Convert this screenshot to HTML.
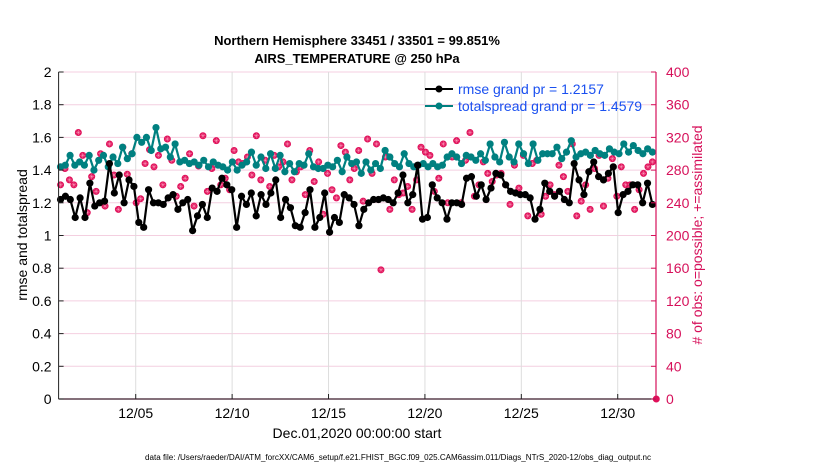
<!DOCTYPE html>
<html><head><meta charset="utf-8"><style>
body{margin:0;background:#fff;}
svg{display:block;font-family:"Liberation Sans",sans-serif;}
</style></head><body>
<svg id="chart" width="830" height="470" xmlns="http://www.w3.org/2000/svg">
<g id="grid"></g>
<g id="series"></g>
<g id="axes"></g>
<text x="357" y="45" font-size="13" font-weight="bold" text-anchor="middle">Northern Hemisphere 33451 / 33501 = 99.851%</text>
<text x="357" y="63" font-size="13" font-weight="bold" text-anchor="middle">AIRS_TEMPERATURE @ 250 hPa</text>
<text transform="translate(27,235) rotate(-90)" font-size="14" text-anchor="middle">rmse and totalspread</text>
<text transform="translate(702,235) rotate(-90)" font-size="14" fill="#d6105a" text-anchor="middle"># of obs: o=possible; +=assimilated</text>
<text x="357" y="438" font-size="14" text-anchor="middle">Dec.01,2020 00:00:00 start</text>
<text x="398" y="460" font-size="8" text-anchor="middle" textLength="506" lengthAdjust="spacingAndGlyphs">data file: /Users/raeder/DAI/ATM_forcXX/CAM6_setup/f.e21.FHIST_BGC.f09_025.CAM6assim.011/Diags_NTrS_2020-12/obs_diag_output.nc</text>
<g>
<line x1="425" y1="89" x2="453" y2="89" stroke="#000" stroke-width="2"/><circle cx="439" cy="89" r="3.5" fill="#000"/>
<text x="458" y="94" font-size="14" fill="#1a50f0">rmse grand pr = 1.2157</text>
<line x1="425" y1="106" x2="453" y2="106" stroke="#008080" stroke-width="2"/><circle cx="439" cy="106" r="3.5" fill="#008080"/>
<text x="458" y="111" font-size="14" fill="#1a50f0">totalspread grand pr = 1.4579</text>
</g>
</svg>
<script>
const rmse=[1.22,1.24,1.22,1.11,1.23,1.11,1.32,1.18,1.2,1.21,1.44,1.26,1.37,1.2,1.34,1.30,1.08,1.05,1.28,1.2,1.2,1.19,1.23,1.25,1.16,1.2,1.22,1.03,1.12,1.19,1.11,1.29,1.27,1.35,1.31,1.28,1.05,1.24,1.19,1.26,1.12,1.25,1.19,1.26,1.34,
1.11,1.22,1.17,1.06,1.05,1.14,1.28,1.05,1.11,1.26,1.02,1.11,1.08,1.25,1.23,1.19,1.06,1.16,1.2,1.22,1.22,1.23,1.22,1.2,1.26,1.37,1.2,1.25,1.43,1.1,1.11,1.31,1.23,1.2,1.1,1.2,1.2,1.19,1.35,
1.36,1.24,1.31,1.22,1.29,1.38,1.37,1.31,1.27,1.26,1.25,1.25,1.23,1.1,1.16,1.32,1.27,1.24,1.27,1.22,1.2,1.44,1.34,1.25,1.39,1.45,1.36,1.34,1.38,1.42,1.14,1.25,1.27,1.31,1.31,1.2,1.32,1.19];
const spread=[1.42,1.43,1.49,1.43,1.45,1.43,1.49,1.40,1.46,1.49,1.42,1.48,1.44,1.54,1.47,1.5,1.6,1.57,1.6,1.52,1.66,1.53,1.54,1.48,1.56,1.45,1.46,1.44,1.45,1.43,1.46,1.42,1.45,1.43,1.42,1.40,1.45,1.40,1.43,1.45,1.51,1.43,1.48,1.41,
1.5,1.41,1.49,1.39,1.44,1.39,1.44,1.43,1.5,1.42,1.41,1.41,1.43,1.42,1.46,1.39,1.48,1.44,1.45,1.38,1.45,1.40,1.44,1.41,1.52,1.48,1.44,1.42,1.5,1.44,1.42,1.43,1.44,1.42,1.44,1.42,1.43,1.48,1.5,1.48,1.44,1.49,1.48,
1.46,1.5,1.46,1.56,1.48,1.45,1.57,1.48,1.45,1.56,1.5,1.44,1.56,1.46,1.5,1.5,1.5,1.54,1.47,1.51,1.58,1.48,1.5,1.51,1.49,1.52,1.5,1.49,1.53,1.51,1.5,1.56,1.51,1.55,1.52,1.5,1.53,1.51];
const obs=[262,282,268,262,326,298,228,272,254,300,236,312,274,232,308,275,300,240,245,288,305,284,298,262,318,292,248,260,270,300,236,285,322,254,282,316,262,270,256,304,290,288,296,274,322,268,292,
260,298,284,290,312,268,278,284,250,304,266,290,226,276,256,246,310,302,268,282,304,242,318,276,312,158,296,232,268,250,252,260,232,268,308,302,298,254,270,312,240,296,316,240,292,326,248,262,
290,276,266,274,276,262,238,286,258,298,224,288,292,226,248,262,250,286,272,254,312,224,242,262,232,282,298,236,270,294,248,284,262,262,232,256,276,284,290];
const zeroObs=[0];
const xTicks=[4,9,14,19,24,29];
const xTickLabels=["12/05","12/10","12/15","12/20","12/25","12/30"];
const yTicksL=[0,0.2,0.4,0.6,0.8,1,1.2,1.4,1.6,1.8,2];
const yTicksR=[0,40,80,120,160,200,240,280,320,360,400];
const NS='http://www.w3.org/2000/svg';
const X0=58.6,X1=656,PX=19.28,Y0=399,Y1=72;
const T0=0.1,T1=30.8;
const xs=d=>X0+d*PX;
const yl=v=>Y0-(v/2)*(Y0-Y1);
const yr=v=>Y0-(v/400)*(Y0-Y1);
const tAt=(i,n)=>T0+i*(T1-T0)/(n-1);
function mk(p,tag,a){const e=document.createElementNS(NS,tag);for(const k in a)e.setAttribute(k,a[k]);p.appendChild(e);return e;}
const grid=document.getElementById('grid'),ser=document.getElementById('series'),ax=document.getElementById('axes');
yTicksR.forEach(v=>{const l=mk(grid,'line',{x1:X0,x2:X1,y1:yr(v),y2:yr(v),stroke:'#f4cfe0','stroke-width':1});

});
xTicks.forEach(d=>{const l=mk(grid,'line',{x1:xs(d),x2:xs(d),y1:Y1,y2:Y0,stroke:'#dddddd','stroke-width':1});

});
obs.forEach((v,i)=>{const g=mk(ser,'g',{});


const cx=xs(tAt(i,obs.length)),cy=yr(v);
mk(g,'circle',{cx:cx,cy:cy,r:3.5,fill:'#e0105a'});
mk(g,'path',{d:`M${cx-2.5} ${cy}H${cx+2.5}M${cx} ${cy-2.5}V${cy+2.5}M${cx-1.8} ${cy-1.8}L${cx+1.8} ${cy+1.8}M${cx-1.8} ${cy+1.8}L${cx+1.8} ${cy-1.8}`,stroke:'#ffb0c8','stroke-width':0.4});});
zeroObs.forEach(v=>{const c=mk(ser,'circle',{cx:xs(31),cy:yr(v),r:3.5,fill:'#e0105a'});

});
function line(arr,col,name){
const n=arr.length;
const p=mk(ser,'polyline',{points:arr.map((v,i)=>xs(tAt(i,n))+','+yl(v)).join(' '),fill:'none',stroke:col,'stroke-width':2.2,'stroke-linejoin':'round'});


arr.forEach((v,i)=>{const c=mk(ser,'circle',{cx:xs(tAt(i,n)),cy:yl(v),r:3.6,fill:col});

});}
line(spread,'#008080','totalspread');
line(rmse,'#000000','rmse');
let a=mk(ax,'line',{x1:X0,x2:X0,y1:Y1,y2:Y0,stroke:'#222','stroke-width':1});

a=mk(ax,'line',{x1:X0,x2:X1,y1:Y0,y2:Y0,stroke:'#3a1a2a','stroke-width':1.2});

a=mk(ax,'line',{x1:X1,x2:X1,y1:Y1,y2:Y0,stroke:'#d6105a','stroke-width':1.2});

yTicksL.forEach(v=>{mk(ax,'line',{x1:X0,x2:X0+5,y1:yl(v),y2:yl(v),stroke:'#222'});
const t=mk(ax,'text',{x:X0-7,y:yl(v)+5,'font-size':14,'text-anchor':'end'});t.textContent=String(v);

});
yTicksR.forEach(v=>{mk(ax,'line',{x1:X1-5,x2:X1,y1:yr(v),y2:yr(v),stroke:'#d6105a'});
const t=mk(ax,'text',{x:X1+10,y:yr(v)+5,'font-size':14,fill:'#d6105a'});t.textContent=String(v);

});
xTicks.forEach((d,i)=>{mk(ax,'line',{x1:xs(d),x2:xs(d),y1:Y0,y2:Y0-5,stroke:'#222'});
const t=mk(ax,'text',{x:xs(d),y:Y0+19,'font-size':14,'text-anchor':'middle'});t.textContent=xTickLabels[i];

});
</script>
</body></html>
